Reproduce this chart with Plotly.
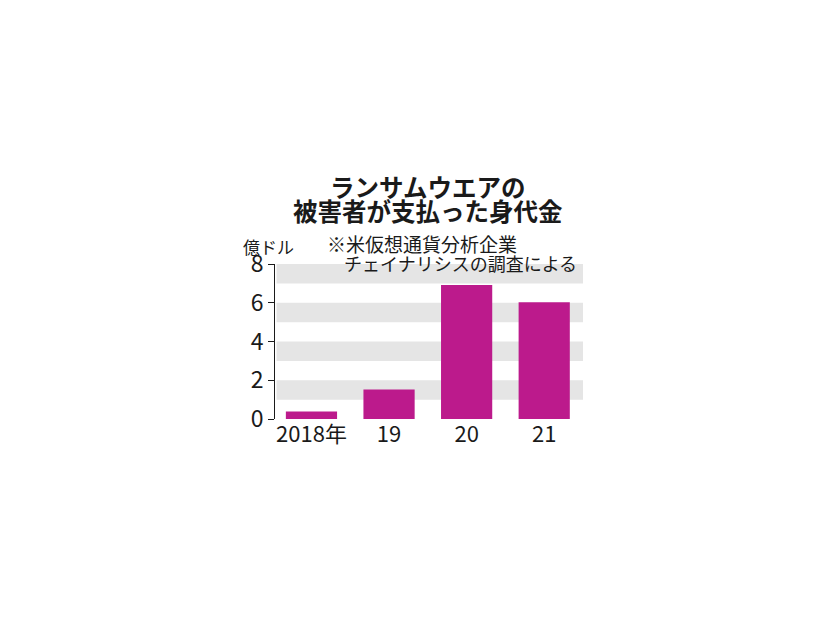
import plotly.graph_objects as go

# data (100 million USD)
years = ["2018年", "19", "20", "21"]
ransom = [0.39, 1.52, 6.92, 6.02]
band_ranges = [(1, 2), (3, 4), (5, 6), (7, 8)]
y_ticks = [0, 2, 4, 6, 8]

title_lines = ["ランサムウエアの", "被害者が支払った身代金"]
note_lines = ["※米仮想通貨分析企業", "チェイナリシスの調査による"]
unit_label = "億ドル"

JP = "Noto Sans CJK JP"
NUM = "Liberation Sans Narrow, Noto Sans CJK JP, sans-serif"
BAR = "#BC1A8C"
INK = "#1a1a1a"

# plot box in page pixels (page has an 8px body margin)
L, R, T, B = 275, 583, 264, 419
W, H = R - L, B - T


def px(x):
    return (x - L) / W


def py(y):
    return (B - y) / H


fig = go.Figure()
fig.add_trace(go.Bar(
    x=list(range(len(years))), y=ransom,
    width=0.66, marker=dict(color=BAR, line_width=0),
    hoverinfo="skip",
))

# grey horizontal bands behind the bars
for lo, hi in band_ranges:
    fig.add_shape(type="rect", xref="paper", yref="y", x0=0.005, x1=1, y0=lo, y1=hi,
                  fillcolor="#E5E5E5", line_width=0, layer="below")

# title, note and unit label
for t, cy in zip(title_lines, [186.5, 210]):
    fig.add_annotation(text=f"<b>{t}</b>", xref="paper", yref="paper",
                       x=px(428), y=py(cy), xanchor="center", yanchor="middle",
                       showarrow=False, font=dict(family=JP, size=24.5, color=INK))
for t, lx, cy, fs in zip(note_lines, [325, 342], [243, 263], [19, 18]):
    fig.add_annotation(text=t, xref="paper", yref="paper",
                       x=px(lx), y=py(cy), xanchor="left", yanchor="middle",
                       showarrow=False, font=dict(family=JP, size=fs, color=INK))
fig.add_annotation(text=unit_label, xref="paper", yref="paper",
                   x=px(241), y=py(246), xanchor="left", yanchor="middle",
                   showarrow=False, font=dict(family=JP, size=17, color=INK))

fig.update_layout(
    width=826, height=620,
    margin=dict(l=L - 8, r=826 - R + 8, t=T - 8, b=620 - B + 8),
    paper_bgcolor="white", plot_bgcolor="white",
    showlegend=False,
    xaxis=dict(
        range=[-0.47, 3.5], tickmode="array",
        tickvals=list(range(len(years))), ticktext=years,
        showgrid=False, zeroline=False, showline=False, ticks="",
        tickfont=dict(family=NUM, size=22, color=INK),
    ),
    yaxis=dict(
        range=[0, 8], tickmode="array", tickvals=y_ticks,
        showgrid=False, zeroline=False,
        showline=True, linecolor=INK, linewidth=1,
        ticks="outside", ticklen=6, tickcolor=INK, tickwidth=1,
        tickfont=dict(family=NUM, size=23, color=INK),
    ),
)

fig.write_html("out.html")
